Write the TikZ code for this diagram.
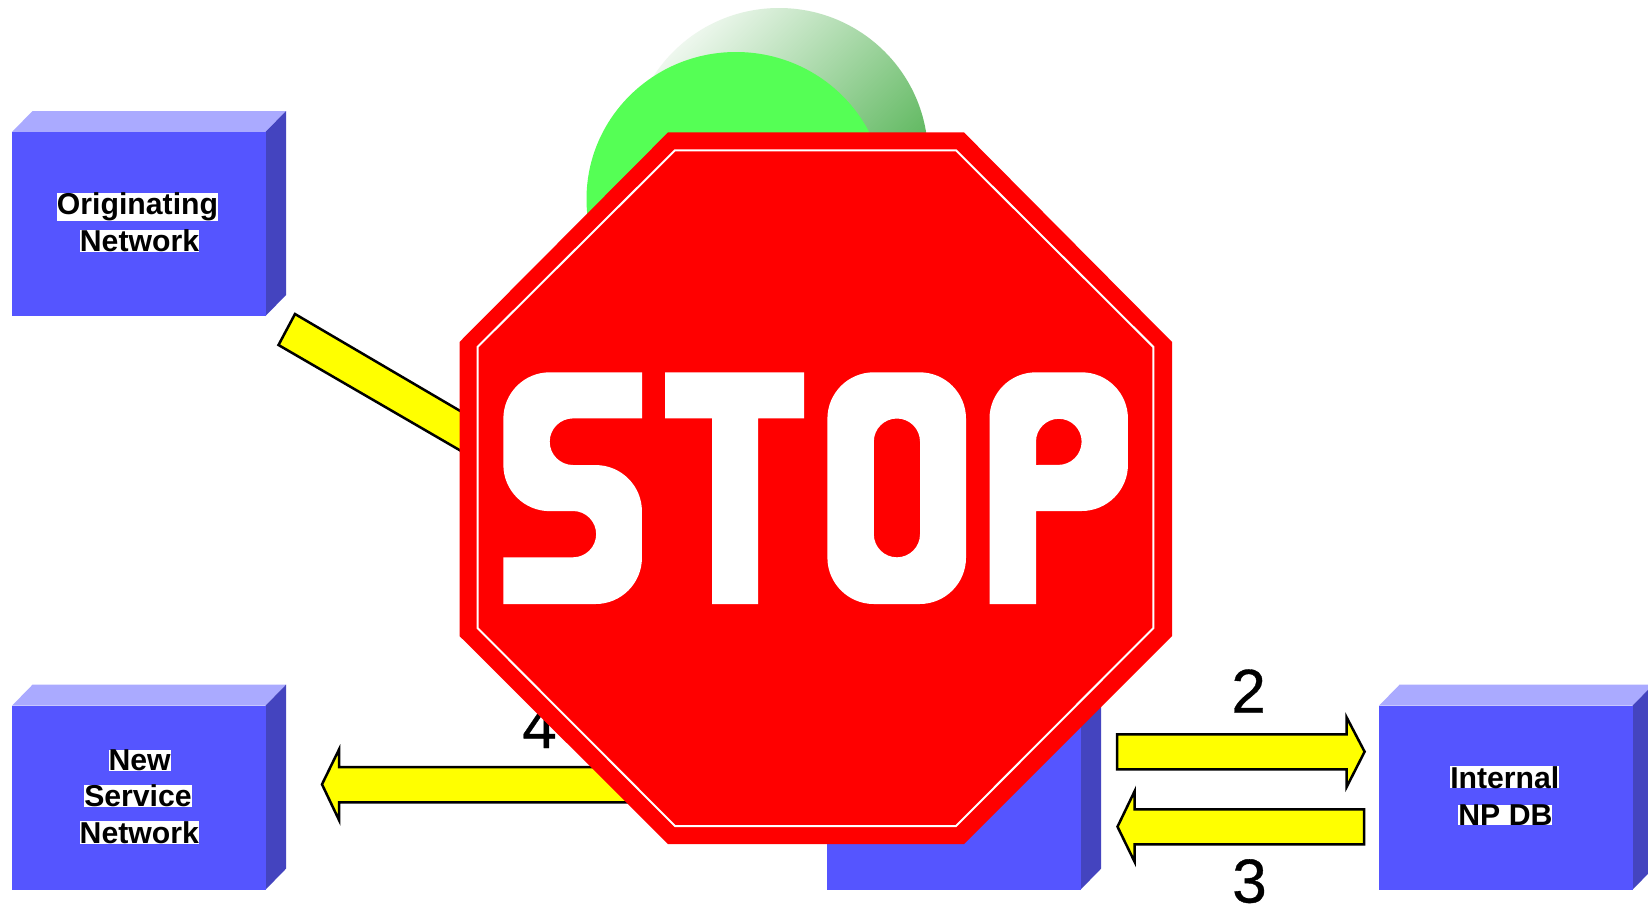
\documentclass[tikz,border=0pt]{standalone}
\usepackage{fontspec}
\setmainfont{Liberation Sans}
\newfontfamily\numfont[FakeBold=0.6]{Liberation Sans}
\definecolor{boxfront}{RGB}{85,85,255}
\definecolor{boxtop}{RGB}{170,170,255}
\definecolor{boxside}{RGB}{68,68,191}
\definecolor{signgreen}{RGB}{85,255,85}
\definecolor{arrowyellow}{RGB}{255,255,0}
\definecolor{signred}{RGB}{255,0,0}
\pgfdeclarehorizontalshading{fadedisc}{100bp}{rgb(0bp)=(1,1,1); rgb(20bp)=(1,1,1); rgb(85.4bp)=(.1,.6,.1); rgb(100bp)=(.1,.6,.1)}
\tikzset{
  frontface/.style={fill=boxfront,draw=none},
  topface/.style={fill=boxtop,draw=none},
  sideface/.style={fill=boxside,draw=none},
  blockarrow/.style={fill=arrowyellow,draw=black,line width=2.5pt,line join=miter,miter limit=8},
  netlabel/.style={fill=white,inner sep=0pt,anchor=base,text=black,font=\fontsize{30.2}{36}\selectfont\bfseries},
  numlabel/.style={inner sep=0pt,anchor=base,text=black,font=\fontsize{62}{62}\selectfont\numfont},
  signletter/.style={fill=white,draw=none,even odd rule}
}
\newcommand{\netbox}[2]{%
  \fill[topface] (#1,#2) -- (#1+20.5,#2-21) -- (#1+274,#2-21) -- (#1+253.5,#2) -- cycle;
  \fill[sideface] (#1+253.5,#2) -- (#1+274,#2-21) -- (#1+274,#2+163) -- (#1+253.5,#2+184) -- cycle;
  \fill[frontface] (#1,#2) rectangle (#1+253.5,#2+184);
}
\newcommand{\letterS}{(642,372.3) -- (549.7,372.3) arc (90:180:46.35pt) -- (503.35,464.8) arc (180:270:46.35pt) -- (573,511) arc (90:-90:23.15pt) -- (503.35,557.3) -- (503.35,604) -- (595.6,604) arc (-90:0:46.35pt) -- (641.95,511.4) arc (0:90:46.35pt) -- (573,465) arc (270:90:23.3pt) -- (642,418.4) -- cycle}
\newcommand{\letterT}{(665,372.3) -- (804,372.3) -- (804,418.4) -- (758,418.4) -- (758,604) -- (712,604) -- (712,418.4) -- (665,418.4) -- cycle}
\newcommand{\letterO}{(827.4,418.65) arc (180:90:46.35pt) -- (919.65,372.3) arc (90:0:46.35pt) -- (966,557.65) arc (0:-90:46.35pt) -- (873.75,604) arc (-90:-180:46.35pt) -- cycle
  (873.8,441.6) arc (180:0:23.1pt) -- (920,534.2) arc (0:-180:23.1pt) -- cycle}
\newcommand{\letterP}{(989.5,604) -- (989.5,418.65) arc (180:90:46.35pt) -- (1081.6,372.3) arc (90:0:46.35pt) -- (1127.95,464.65) arc (0:-90:46.35pt) -- (1036,511) -- (1036,604) -- cycle
  (1036,465) -- (1036,441.6) arc (180:0:22.8pt) arc (0:-90:23.3pt) -- cycle}
\begin{document}
\begin{tikzpicture}[x=1pt,y=-1pt]
\clip (0,0) rectangle (1648,903);
\fill[white] (0,0) rectangle (1648,903);
% faded disc
\shade[shading=fadedisc,shading angle=-45] (779,156) ellipse [x radius=149pt,y radius=148pt];
\fill[signgreen] (736,199) ellipse [x radius=149.5pt,y radius=147pt];
% boxes
\netbox{12}{132}
\netbox{12}{705.7}
\netbox{827}{705.7}
\netbox{1379}{705.7}
% labels
\node[netlabel] (o1) at (137.5,214.5) {Originating};
\node[netlabel] (o2) at (139.5,251.4) {Network};
\node[netlabel] (n1) at (139.7,770.3) {New};
\node[netlabel] (n2) at (138,806.8) {Service};
\node[netlabel] (n3) at (139.3,843.3) {Network};
\node[netlabel] (i1) at (1504.8,788) {Internal};
\node[netlabel] (i2) at (1505.4,825.3) {NP DB};
% block arrows
\draw[blockarrow] (295,314) -- (600,493) -- (580,520) -- (278.5,345) -- cycle;
\draw[blockarrow] (1117,734.3) -- (1346.7,734.3) -- (1346.7,717.5) -- (1364.6,751.7) -- (1346.7,786.8) -- (1346.7,769.3) -- (1117,769.3) -- cycle;
\draw[blockarrow] (1364,809.3) -- (1134.7,809.3) -- (1134.7,791) -- (1117.5,826.7) -- (1134.7,862) -- (1134.7,844.3) -- (1364,844.3) -- cycle;
\draw[blockarrow] (660,767) -- (339,767) -- (339,749.5) -- (322,784.3) -- (339,820) -- (339,802.3) -- (660,802.3) -- cycle;
% numbers
\node[numlabel] (n4) at (539.5,748) {4};
\node[numlabel] (n22) at (1248.6,712.7) {2};
\node[numlabel] (n33) at (1249.5,902.5) {3};
% stop sign
\fill[signred] (668,132.4) -- (964,132.4) -- (1172,342) -- (1172,636) -- (964,844) -- (668,844) -- (459.5,636) -- (459.5,342) -- cycle;
\draw[white,line width=2pt,line join=miter] (675,150.3) -- (956,150.3) -- (1153.4,347) -- (1153.4,628) -- (956,826) -- (675,826) -- (477.5,628) -- (477.5,347) -- cycle;
\fill[signletter] \letterS;
\fill[signletter] \letterT;
\fill[signletter] \letterO;
\fill[signletter] \letterP;
\begin{scope}
  \clip (553,376) rectangle (638,414) (716,376) rectangle (754,600) (831,422) rectangle (870,553) (993,422) rectangle (1032,600);
  \node[text=white,inner sep=0pt,xscale=.72,transform shape,font=\fontsize{318}{318}\selectfont\bfseries] (stopword) at (816,488) {STOP};
\end{scope}
\end{tikzpicture}
\end{document}
